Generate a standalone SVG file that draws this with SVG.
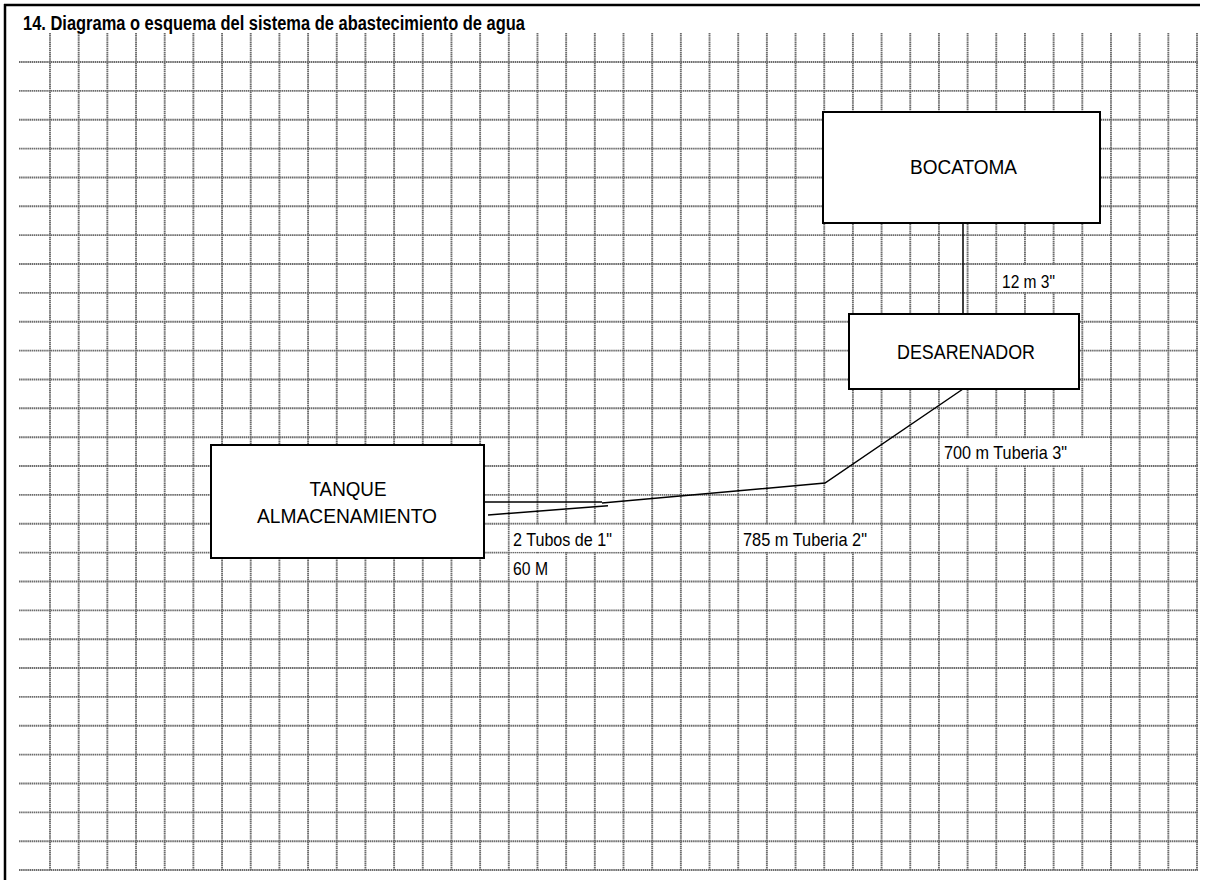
<svg xmlns="http://www.w3.org/2000/svg" width="1205" height="885" viewBox="0 0 1205 885">
<style>
.grid line{stroke:#6a6a6a;stroke-width:1.9;stroke-dasharray:1.5 0.6}
.box{fill:#fff;stroke:#000;stroke-width:2}
.btxt{font-family:"Liberation Sans",Arial,sans-serif;font-size:19.5px;fill:#000;text-anchor:middle}
.lbl{font-family:"Liberation Sans",Arial,sans-serif;font-size:18.5px;fill:#000}
.cell{fill:#fff;stroke:none}
.conn{stroke:#000;stroke-width:1.5;fill:none}
</style>
<rect x="0" y="0" width="1205" height="885" fill="#fff"/>
<g id="frame">
<line x1="4" y1="5" x2="1200" y2="5" stroke="#000" stroke-width="2.5"/>
<line x1="5" y1="4" x2="5" y2="880" stroke="#000" stroke-width="2.5"/>
</g>
<text id="title" x="23" y="30" font-family="'Liberation Sans',Arial,sans-serif" font-weight="bold" font-size="20" textLength="502" lengthAdjust="spacingAndGlyphs">14. Diagrama o esquema del sistema de abastecimiento de agua</text>
<g class="grid" id="grid">
<line x1="50" y1="33" x2="50" y2="870"/>
<line x1="78.675" y1="33" x2="78.675" y2="870"/>
<line x1="107.35" y1="33" x2="107.35" y2="870"/>
<line x1="136.025" y1="33" x2="136.025" y2="870"/>
<line x1="164.7" y1="33" x2="164.7" y2="870"/>
<line x1="193.375" y1="33" x2="193.375" y2="870"/>
<line x1="222.05" y1="33" x2="222.05" y2="870"/>
<line x1="250.725" y1="33" x2="250.725" y2="870"/>
<line x1="279.4" y1="33" x2="279.4" y2="870"/>
<line x1="308.075" y1="33" x2="308.075" y2="870"/>
<line x1="336.75" y1="33" x2="336.75" y2="870"/>
<line x1="365.425" y1="33" x2="365.425" y2="870"/>
<line x1="394.1" y1="33" x2="394.1" y2="870"/>
<line x1="422.775" y1="33" x2="422.775" y2="870"/>
<line x1="451.45" y1="33" x2="451.45" y2="870"/>
<line x1="480.125" y1="33" x2="480.125" y2="870"/>
<line x1="508.8" y1="33" x2="508.8" y2="870"/>
<line x1="537.475" y1="33" x2="537.475" y2="870"/>
<line x1="566.15" y1="33" x2="566.15" y2="870"/>
<line x1="594.825" y1="33" x2="594.825" y2="870"/>
<line x1="623.5" y1="33" x2="623.5" y2="870"/>
<line x1="652.175" y1="33" x2="652.175" y2="870"/>
<line x1="680.85" y1="33" x2="680.85" y2="870"/>
<line x1="709.525" y1="33" x2="709.525" y2="870"/>
<line x1="738.2" y1="33" x2="738.2" y2="870"/>
<line x1="766.875" y1="33" x2="766.875" y2="870"/>
<line x1="795.55" y1="33" x2="795.55" y2="870"/>
<line x1="824.225" y1="33" x2="824.225" y2="870"/>
<line x1="852.9" y1="33" x2="852.9" y2="870"/>
<line x1="881.575" y1="33" x2="881.575" y2="870"/>
<line x1="910.25" y1="33" x2="910.25" y2="870"/>
<line x1="938.925" y1="33" x2="938.925" y2="870"/>
<line x1="967.6" y1="33" x2="967.6" y2="870"/>
<line x1="996.275" y1="33" x2="996.275" y2="870"/>
<line x1="1024.95" y1="33" x2="1024.95" y2="870"/>
<line x1="1053.625" y1="33" x2="1053.625" y2="870"/>
<line x1="1082.3" y1="33" x2="1082.3" y2="870"/>
<line x1="1110.975" y1="33" x2="1110.975" y2="870"/>
<line x1="1139.65" y1="33" x2="1139.65" y2="870"/>
<line x1="1168.325" y1="33" x2="1168.325" y2="870"/>
<line x1="1197" y1="33" x2="1197" y2="870"/>
<line x1="19" y1="62" x2="1198" y2="62"/>
<line x1="19" y1="90.86" x2="1198" y2="90.86"/>
<line x1="19" y1="119.72" x2="1198" y2="119.72"/>
<line x1="19" y1="148.58" x2="1198" y2="148.58"/>
<line x1="19" y1="177.44" x2="1198" y2="177.44"/>
<line x1="19" y1="206.3" x2="1198" y2="206.3"/>
<line x1="19" y1="235.16" x2="1198" y2="235.16"/>
<line x1="19" y1="264.02" x2="1198" y2="264.02"/>
<line x1="19" y1="292.88" x2="1198" y2="292.88"/>
<line x1="19" y1="321.74" x2="1198" y2="321.74"/>
<line x1="19" y1="350.6" x2="1198" y2="350.6"/>
<line x1="19" y1="379.46" x2="1198" y2="379.46"/>
<line x1="19" y1="408.32" x2="1198" y2="408.32"/>
<line x1="19" y1="437.18" x2="1198" y2="437.18"/>
<line x1="19" y1="466.04" x2="1198" y2="466.04"/>
<line x1="19" y1="494.9" x2="1198" y2="494.9"/>
<line x1="19" y1="523.76" x2="1198" y2="523.76"/>
<line x1="19" y1="552.62" x2="1198" y2="552.62"/>
<line x1="19" y1="581.48" x2="1198" y2="581.48"/>
<line x1="19" y1="610.34" x2="1198" y2="610.34"/>
<line x1="19" y1="639.2" x2="1198" y2="639.2"/>
<line x1="19" y1="668.06" x2="1198" y2="668.06"/>
<line x1="19" y1="696.92" x2="1198" y2="696.92"/>
<line x1="19" y1="725.78" x2="1198" y2="725.78"/>
<line x1="19" y1="754.64" x2="1198" y2="754.64"/>
<line x1="19" y1="783.5" x2="1198" y2="783.5"/>
<line x1="19" y1="812.36" x2="1198" y2="812.36"/>
<line x1="19" y1="841.22" x2="1198" y2="841.22"/>
<line x1="19" y1="870" x2="1198" y2="870"/>
</g>
<g id="label-cells">
<rect class="cell" x="997.3" y="265" width="84" height="27"/>
<rect class="cell" x="939.9" y="438.2" width="170" height="27"/>
<rect class="cell" x="509.8" y="524.8" width="112.7" height="27"/>
<rect class="cell" x="509.8" y="553.6" width="55.3" height="27"/>
<rect class="cell" x="739.2" y="524.8" width="141.4" height="27"/>
</g>
<g id="connectors">
<line class="conn" x1="963" y1="223" x2="963" y2="314"/>
<polyline class="conn" points="963,389 825,483 602,503"/>
<line class="conn" x1="484" y1="502" x2="602" y2="502"/>
<line class="conn" x1="488" y1="515" x2="608" y2="505.7"/>
<text class="lbl" x="1002" y="288" textLength="53" lengthAdjust="spacingAndGlyphs">12 m 3"</text>
<text class="lbl" x="944" y="459" textLength="123" lengthAdjust="spacingAndGlyphs">700 m Tuberia 3"</text>
<text class="lbl" x="513" y="546" textLength="99" lengthAdjust="spacingAndGlyphs">2 Tubos de 1"</text>
<text class="lbl" x="513" y="575" textLength="35" lengthAdjust="spacingAndGlyphs">60 M</text>
<text class="lbl" x="743" y="546" textLength="124" lengthAdjust="spacingAndGlyphs">785 m Tuberia 2"</text>
</g>
<g id="bocatoma">
<rect class="box" x="823" y="112" width="277" height="111"/>
<text class="btxt" x="963.5" y="174" textLength="107" lengthAdjust="spacingAndGlyphs">BOCATOMA</text>
</g>
<g id="desarenador">
<rect class="box" x="849" y="314" width="230" height="75"/>
<text class="btxt" x="966" y="359" textLength="138" lengthAdjust="spacingAndGlyphs">DESARENADOR</text>
</g>
<g id="tanque">
<rect class="box" x="211" y="445" width="273" height="113"/>
<text class="btxt" x="348" y="496" textLength="77" lengthAdjust="spacingAndGlyphs">TANQUE</text>
<text class="btxt" x="347" y="523" textLength="180" lengthAdjust="spacingAndGlyphs">ALMACENAMIENTO</text>
</g>
</svg>
